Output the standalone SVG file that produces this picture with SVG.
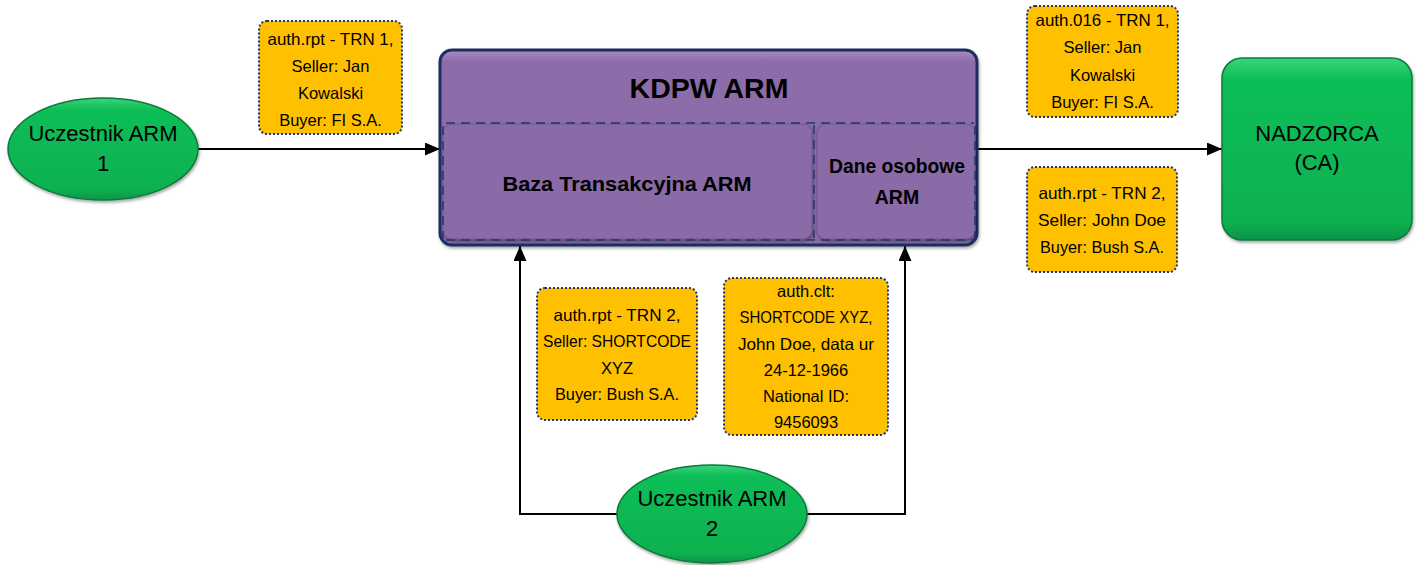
<svg xmlns="http://www.w3.org/2000/svg" width="1421" height="565" viewBox="0 0 1421 565">
<style>
.lbl{font-family:"Liberation Sans",Arial,sans-serif;font-size:22px;fill:#000;text-anchor:middle}
.note{font-family:"Liberation Sans",Arial,sans-serif;font-size:16.5px;fill:#000;text-anchor:middle}
.bold{font-family:"Liberation Sans",Arial,sans-serif;font-weight:bold;fill:#000;text-anchor:middle}
.callout{fill:#FFC000;stroke:#1F3864;stroke-width:2;stroke-dasharray:2 2}
.green{fill:url(#gGreen);stroke:#0A7A3A;stroke-width:1.5}
.conn{stroke:#000;stroke-width:2;fill:none}
</style>
<defs>
<linearGradient id="gGreen" x1="0" y1="0" x2="0" y2="1">
<stop offset="0" stop-color="#3BD37A"/>
<stop offset="0.12" stop-color="#0BBE57"/>
<stop offset="0.9" stop-color="#08B150"/>
<stop offset="1" stop-color="#07934A"/>
</linearGradient>
<linearGradient id="gPurple" x1="0" y1="0" x2="0" y2="1">
<stop offset="0" stop-color="#A98CC4"/>
<stop offset="0.06" stop-color="#8C6DA9"/>
<stop offset="1" stop-color="#8A6BA7"/>
</linearGradient>
<marker id="arr" viewBox="0 0 10 10" refX="10" refY="5" markerWidth="15" markerHeight="13" markerUnits="userSpaceOnUse" orient="auto" preserveAspectRatio="none">
<path d="M0,0 L10,5 L0,10 z" fill="#000"/>
</marker>
<filter id="sh" x="-10%" y="-10%" width="130%" height="130%">
<feDropShadow dx="1" dy="2" stdDeviation="1.5" flood-color="#000" flood-opacity="0.35"/>
</filter>
</defs>

<g id="connectors">
<line class="conn" x1="198" y1="149" x2="440" y2="149" marker-end="url(#arr)"/>
<line class="conn" x1="977" y1="149" x2="1222" y2="149" marker-end="url(#arr)"/>
<polyline class="conn" points="618,514 520,514 520,246" marker-end="url(#arr)"/>
<polyline class="conn" points="806,514 905,514 905,246" marker-end="url(#arr)"/>
</g>

<g id="kdpw-arm">
<rect x="440" y="50" width="537" height="195" rx="12" fill="url(#gPurple)" stroke="#1F2F5F" stroke-width="3" filter="url(#sh)"/>
<text class="bold" x="709" y="98" font-size="28.5">KDPW ARM</text>
</g>
<g id="baza">
<rect x="443" y="124" width="369" height="115" rx="9" fill="#8A6BA7" stroke="#6E5590" stroke-width="1" filter="url(#sh)"/>
<text class="bold" x="627" y="191" font-size="20.5" textLength="249" lengthAdjust="spacingAndGlyphs">Baza Transakcyjna ARM</text>
</g>
<g id="dane">
<rect x="817" y="124" width="158" height="115" rx="9" fill="#8A6BA7" stroke="#6E5590" stroke-width="1" filter="url(#sh)"/>
<text class="bold" x="897" y="173" font-size="19.5" textLength="136" lengthAdjust="spacingAndGlyphs">Dane osobowe</text>
<text class="bold" x="897" y="204" font-size="19.5">ARM</text>
</g>
<g id="dashes" fill="none" stroke="#1F3864" stroke-width="1.5" stroke-dasharray="9 6">
<line x1="446" y1="123" x2="974" y2="123"/>
<line x1="446" y1="240" x2="974" y2="240"/>
<line x1="814" y1="125" x2="814" y2="238"/>
<line x1="443" y1="126" x2="443" y2="238"/>
<line x1="975" y1="126" x2="975" y2="238"/>
</g>

<g id="uczestnik1">
<ellipse class="green" cx="103" cy="149" rx="95" ry="51" filter="url(#sh)"/>
<text class="lbl" x="103" y="141">Uczestnik ARM</text>
<text class="lbl" x="103" y="171">1</text>
</g>

<g id="uczestnik2">
<ellipse class="green" cx="712" cy="514" rx="95" ry="49" filter="url(#sh)"/>
<text class="lbl" x="712" y="506">Uczestnik ARM</text>
<text class="lbl" x="712" y="536">2</text>
</g>

<g id="nadzorca">
<rect class="green" x="1222" y="58" width="190" height="182" rx="20" filter="url(#sh)"/>
<text class="lbl" x="1317" y="141">NADZORCA</text>
<text class="lbl" x="1317" y="170">(CA)</text>
</g>

<g id="note1">
<rect class="callout" x="259" y="21" width="143" height="113" rx="8"/>
<text class="note" x="330.5" y="45" textLength="126" lengthAdjust="spacingAndGlyphs">auth.rpt - TRN 1,</text>
<text class="note" x="330.5" y="72">Seller: Jan</text>
<text class="note" x="330.5" y="99">Kowalski</text>
<text class="note" x="330.5" y="126">Buyer: FI S.A.</text>
</g>

<g id="note2">
<rect class="callout" x="1027" y="6" width="151" height="111" rx="8"/>
<text class="note" x="1102.5" y="26" textLength="134" lengthAdjust="spacingAndGlyphs">auth.016 - TRN 1,</text>
<text class="note" x="1102.5" y="53">Seller: Jan</text>
<text class="note" x="1102.5" y="81">Kowalski</text>
<text class="note" x="1102.5" y="108">Buyer: FI S.A.</text>
</g>

<g id="note3">
<rect class="callout" x="1027" y="167" width="150" height="105" rx="8"/>
<text class="note" x="1102" y="199" textLength="127" lengthAdjust="spacingAndGlyphs">auth.rpt - TRN 2,</text>
<text class="note" x="1102" y="226" textLength="128" lengthAdjust="spacingAndGlyphs">Seller: John Doe</text>
<text class="note" x="1102" y="253" textLength="124" lengthAdjust="spacingAndGlyphs">Buyer: Bush S.A.</text>
</g>

<g id="note4">
<rect class="callout" x="537" y="288" width="160" height="132" rx="8"/>
<text class="note" x="617" y="321" textLength="127" lengthAdjust="spacingAndGlyphs">auth.rpt - TRN 2,</text>
<text class="note" x="617" y="347" textLength="148" lengthAdjust="spacingAndGlyphs">Seller: SHORTCODE</text>
<text class="note" x="617" y="374">XYZ</text>
<text class="note" x="617" y="400" textLength="124" lengthAdjust="spacingAndGlyphs">Buyer: Bush S.A.</text>
</g>

<g id="note5">
<rect class="callout" x="724" y="278" width="164" height="157" rx="8"/>
<text class="note" x="806" y="297">auth.clt:</text>
<text class="note" x="806" y="323" textLength="133" lengthAdjust="spacingAndGlyphs">SHORTCODE XYZ,</text>
<text class="note" x="806" y="350" textLength="136" lengthAdjust="spacingAndGlyphs">John Doe, data ur</text>
<text class="note" x="806" y="376">24-12-1966</text>
<text class="note" x="806" y="402">National ID:</text>
<text class="note" x="806" y="428">9456093</text>
</g>
</svg>
